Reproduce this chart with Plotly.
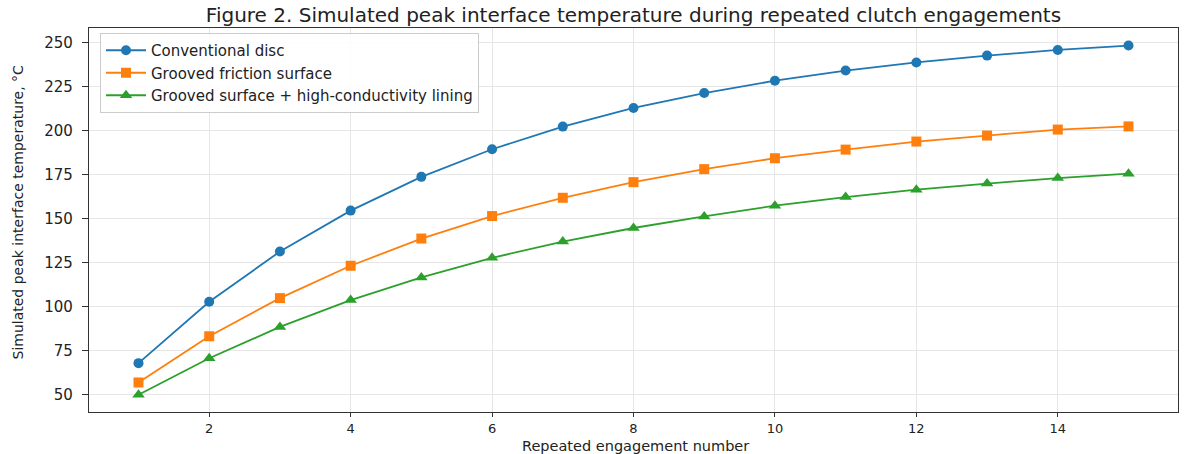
import plotly.graph_objects as go

engagement = list(range(1, 16))
conventional = [67.8, 102.7, 131.3, 154.6, 173.8, 189.5, 202.4, 213.0, 221.5, 228.5, 234.3, 238.9, 242.8, 246.0, 248.5]
grooved = [56.8, 83.1, 104.8, 123.2, 138.7, 151.5, 161.9, 170.8, 178.2, 184.4, 189.3, 193.9, 197.3, 200.7, 202.5]
grooved_hc = [49.8, 70.6, 88.4, 103.7, 116.6, 127.7, 137.0, 144.7, 151.3, 157.4, 162.3, 166.5, 170.0, 173.1, 175.6]

series_names = ["Conventional disc", "Grooved friction surface", "Grooved surface + high-conductivity lining"]
colors = ["#1f77b4", "#ff7f0e", "#2ca02c"]
symbols = ["circle", "square", "triangle-up"]
sizes = [10, 10, 11]

x_ticks = [2, 4, 6, 8, 10, 12, 14]
y_ticks = [50, 75, 100, 125, 150, 175, 200, 225, 250]

FONT = "DejaVu Sans"
W, H = 1185, 454
ML, MR, MT, MB = 89, 7, 28, 42
PW, PH = W - ML - MR, H - MT - MB

fig = go.Figure()
for name, vals, c, s, sz in zip(series_names, [conventional, grooved, grooved_hc], colors, symbols, sizes):
    fig.add_trace(go.Scatter(
        x=engagement, y=vals, name=name, mode="lines+markers",
        line=dict(color=c, width=1.8),
        marker=dict(color=c, symbol=s, size=sz, line=dict(width=0)),
    ))

axis_common = dict(
    showline=True, linecolor="#333333", linewidth=1.2, mirror=True,
    showgrid=True, gridcolor="#e6e6e6", gridwidth=1,
    ticks="outside", tickwidth=1.2, tickcolor="#333333",
    zeroline=False, automargin=False,
)

fig.update_layout(
    width=W, height=H,
    margin=dict(l=ML, r=MR, t=MT, b=MB),
    paper_bgcolor="white", plot_bgcolor="white",
    font=dict(family=FONT, color="#222222"),
    title=dict(
        text="Figure 2. Simulated peak interface temperature during repeated clutch engagements",
        x=0.5, xref="paper", xanchor="center",
        y=1 - 15 / H, yref="container", yanchor="middle",
        font=dict(family=FONT, size=20, color="#222222"),
    ),
    xaxis=dict(range=[0.3, 15.7], tickvals=x_ticks, ticklen=4, ticklabelstandoff=0,
               tickfont=dict(family=FONT, size=13, color="#222222"), **axis_common),
    yaxis=dict(range=[40.0, 258.5], tickvals=y_ticks, ticklen=6, ticklabelstandoff=6,
               tickfont=dict(family=FONT, size=15, color="#222222"), **axis_common),
    legend=dict(
        x=(100 - ML) / PW, y=(H - MB - 33) / PH, xanchor="left", yanchor="top",
        bgcolor="rgba(255,255,255,0.85)", bordercolor="#cccccc", borderwidth=1,
        font=dict(family=FONT, size=15, color="#222222"),
        tracegroupgap=0, itemwidth=40,
    ),
    showlegend=True,
)

fig.add_annotation(
    text="Repeated engagement number", xref="paper", yref="paper",
    x=(635 - ML) / PW, y=-(445.5 - (H - MB)) / PH, xanchor="center", yanchor="middle",
    showarrow=False, borderpad=0, font=dict(family=FONT, size=14.5, color="#222222"),
)
fig.add_annotation(
    text="Simulated peak interface temperature, °C", xref="paper", yref="paper",
    x=(17.5 - ML) / PW, y=((H - MB) - 212) / PH, xanchor="center", yanchor="middle",
    textangle=-90, showarrow=False, font=dict(family=FONT, size=14, color="#222222"),
)

fig.write_html("out.html")
